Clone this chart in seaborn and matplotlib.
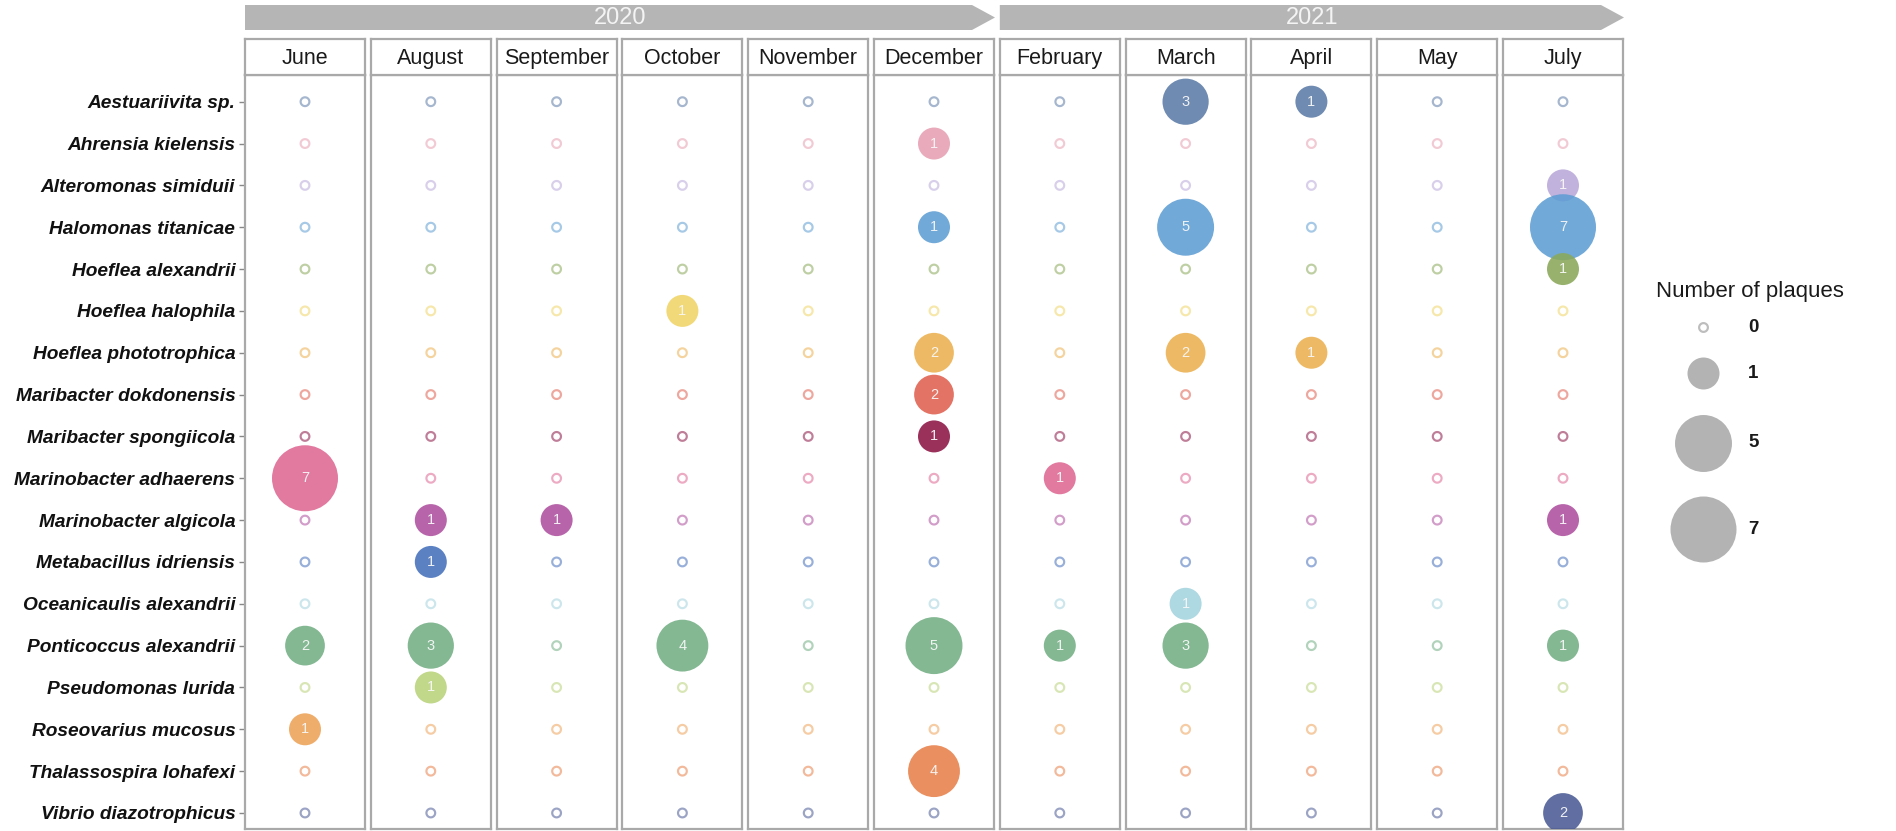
import numpy as np
import pandas as pd
import matplotlib
matplotlib.use("Agg")
import matplotlib.pyplot as plt
import seaborn as sns
from matplotlib.path import Path
from matplotlib.markers import MarkerStyle
from matplotlib.patches import Polygon

# ---------------- data ----------------
species = [
    "Aestuariivita sp.", "Ahrensia kielensis", "Alteromonas simiduii",
    "Halomonas titanicae", "Hoeflea alexandrii", "Hoeflea halophila",
    "Hoeflea phototrophica", "Maribacter dokdonensis", "Maribacter spongiicola",
    "Marinobacter adhaerens", "Marinobacter algicola", "Metabacillus idriensis",
    "Oceanicaulis alexandrii", "Ponticoccus alexandrii", "Pseudomonas lurida",
    "Roseovarius mucosus", "Thalassospira lohafexi", "Vibrio diazotrophicus",
]
species_colors = [
    "#5b7ba6", "#e6a0b2", "#b9a8d9", "#5d9dd3", "#8aa85a", "#f0d466",
    "#ecb04e", "#e0604e", "#8c1444", "#de6692", "#ad4f9e", "#4470bb",
    "#a3d3de", "#72ae84", "#b9d27a", "#eda258", "#e8804a", "#4a5a94",
]
months = ["June", "August", "September", "October", "November", "December",
          "February", "March", "April", "May", "July"]
years = ["2020", "2021"]
month_year = ["2020"] * 6 + ["2021"] * 5

# counts per month, in species order
june      = [0, 0, 0, 0, 0, 0, 0, 0, 0, 7, 0, 0, 0, 2, 0, 1, 0, 0]
august    = [0, 0, 0, 0, 0, 0, 0, 0, 0, 0, 1, 1, 0, 3, 1, 0, 0, 0]
september = [0, 0, 0, 0, 0, 0, 0, 0, 0, 0, 1, 0, 0, 0, 0, 0, 0, 0]
october   = [0, 0, 0, 0, 0, 1, 0, 0, 0, 0, 0, 0, 0, 4, 0, 0, 0, 0]
november  = [0, 0, 0, 0, 0, 0, 0, 0, 0, 0, 0, 0, 0, 0, 0, 0, 0, 0]
december  = [0, 1, 0, 1, 0, 0, 2, 2, 1, 0, 0, 0, 0, 5, 0, 0, 4, 0]
february  = [0, 0, 0, 0, 0, 0, 0, 0, 0, 1, 0, 0, 0, 1, 0, 0, 0, 0]
march     = [3, 0, 0, 5, 0, 0, 2, 0, 0, 0, 0, 0, 1, 3, 0, 0, 0, 0]
april     = [1, 0, 0, 0, 0, 0, 1, 0, 0, 0, 0, 0, 0, 0, 0, 0, 0, 0]
may       = [0, 0, 0, 0, 0, 0, 0, 0, 0, 0, 0, 0, 0, 0, 0, 0, 0, 0]
july      = [0, 0, 1, 7, 1, 0, 0, 0, 0, 0, 1, 0, 0, 1, 0, 0, 0, 2]
month_counts = [june, august, september, october, november, december,
                february, march, april, may, july]

legend_values = [0, 1, 5, 7]
legend_title = "Number of plaques"

# ---------------- table ----------------
rows = []
for m, cnts in zip(months, month_counts):
    for i, (sp, c) in enumerate(zip(species, cnts)):
        rows.append({"month": m, "species": sp, "row": i, "count": c})
df = pd.DataFrame(rows)
palette = dict(zip(species, species_colors))

# ---------------- styling ----------------
sns.set_theme(style="white")
plt.rcParams["font.family"] = ["Liberation Sans", "DejaVu Sans"]

W, H = 1896, 831
fig = plt.figure(figsize=(W / 100, H / 100), dpi=100)
fig.patch.set_facecolor("white")


def ring_marker(inner=0.6, n=72):
    t = np.linspace(0, 2 * np.pi, n + 1)
    outer = np.column_stack([0.5 * np.cos(t), 0.5 * np.sin(t)])
    inn = np.column_stack([0.5 * inner * np.cos(t[::-1]),
                           0.5 * inner * np.sin(t[::-1])])
    codes = [Path.MOVETO] + [Path.LINETO] * (n - 1) + [Path.CLOSEPOLY]
    return MarkerStyle(Path(np.vstack([outer, inn]), codes + codes))


RING = ring_marker(0.6)

# size mapping (area linear in count), sizes in pt^2
SMIN, SMAX = 531, 2258
SIZE_NORM = (1, 7)
RING_S = 62

# panel geometry (pixels)
left0, pitch, pw = 245, 125.8, 120
ptop, pbot = 75, 829
stop = 39
row_top, row_step = 101.7, 41.84
ylim_top = -(row_top - ptop) / row_step
ylim_bot = (pbot - row_top) / row_step

spine_col = "#a9a9a9"

for j, m in enumerate(months):
    x0 = left0 + j * pitch
    ax = fig.add_axes([x0 / W, (H - pbot) / H, pw / W, (pbot - ptop) / H])
    sub = df[df["month"] == m]
    zeros = sub[sub["count"] == 0]
    filled = sub[sub["count"] > 0]
    sns.scatterplot(data=zeros, x="month", y="row", hue="species",
                    palette=palette, hue_order=species, marker=RING,
                    s=RING_S, linewidth=0, edgecolor="none", alpha=0.55,
                    legend=False, ax=ax)
    if len(filled):
        sns.scatterplot(data=filled, x="month", y="row", hue="species",
                        palette=palette, hue_order=species, size="count",
                        sizes=(SMIN, SMAX), size_norm=SIZE_NORM,
                        marker="o", linewidth=0, edgecolor="none",
                        alpha=0.88, legend=False, ax=ax, zorder=3)
        xc = ax.xaxis.convert_units(m)
        for _, r in filled.iterrows():
            ax.text(xc, r["row"], str(r["count"]), ha="center", va="center",
                    color="#f7f7f7", fontsize=10.5, alpha=0.95, zorder=4)
    ax.set_xlim(-0.5, 0.5)
    ax.set_ylim(ylim_bot, ylim_top)
    ax.set_xlabel("")
    ax.set_ylabel("")
    ax.set_xticks([])
    for sp in ax.spines.values():
        sp.set_color(spine_col)
        sp.set_linewidth(1.6)
    if j == 0:
        ax.set_yticks(range(len(species)))
        ax.set_yticklabels(species, fontsize=13.8, fontweight="bold",
                           fontstyle="italic", color="#111111")
        ax.tick_params(axis="y", length=4, width=1, color="#888888",
                       pad=3, left=True)
    else:
        ax.set_yticks([])

    # strip
    sax = fig.add_axes([x0 / W, (H - ptop) / H, pw / W, (ptop - stop) / H])
    sax.set_xticks([])
    sax.set_yticks([])
    sax.set_facecolor("white")
    for sp in sax.spines.values():
        sp.set_color(spine_col)
        sp.set_linewidth(1.6)
    sax.text(0.5, 0.47, m, ha="center", va="center", fontsize=15.5,
             color="#1a1a1a", transform=sax.transAxes)

# ---------------- overlay: year banners and legend ----------------
ov = fig.add_axes([0, 0, 1, 1], facecolor="none")
ov.set_xlim(0, W)
ov.set_ylim(H, 0)
ov.axis("off")

btop, bbot = 5, 30
for yr in years:
    idx = [k for k, y in enumerate(month_year) if y == yr]
    bx0 = left0 + idx[0] * pitch
    tip = left0 + idx[-1] * pitch + pw + 1
    base = tip - 23
    poly = Polygon([(bx0, btop), (base, btop), (tip, (btop + bbot) / 2),
                    (base, bbot), (bx0, bbot)], closed=True,
                   facecolor="#b5b5b5", edgecolor="none")
    ov.add_patch(poly)
    ov.text((bx0 + tip) / 2, (btop + bbot) / 2 + 1, yr, ha="center",
            va="center", fontsize=17, color="#f4f4f4")

# legend
ov.text(1656, 292, legend_title, ha="left", va="center", fontsize=16,
        color="#1a1a1a")


def size_s(v):
    if v == 0:
        return RING_S
    return SMIN + (v - SIZE_NORM[0]) / (SIZE_NORM[1] - SIZE_NORM[0]) * (SMAX - SMIN)


leg_x, leg_tx, gap = 1703, 1748, 25
yc = 327
prev = None
for v in legend_values:
    d = np.sqrt(size_s(v)) * 100 / 72
    if prev is not None:
        yc = yc + (prev + d) / 2 + gap
    prev = d
    if v == 0:
        ov.scatter([leg_x], [yc], s=size_s(v), marker=RING,
                   color="#bdbdbd", linewidths=0)
    else:
        ov.scatter([leg_x], [yc], s=size_s(v), marker="o", color="#b3b3b3",
                   linewidths=0)
    ov.text(leg_tx, yc, str(v), ha="left", va="center", fontsize=13.5,
            fontweight="bold", color="#1a1a1a")

fig.savefig("out.png", dpi=100, facecolor="white")
